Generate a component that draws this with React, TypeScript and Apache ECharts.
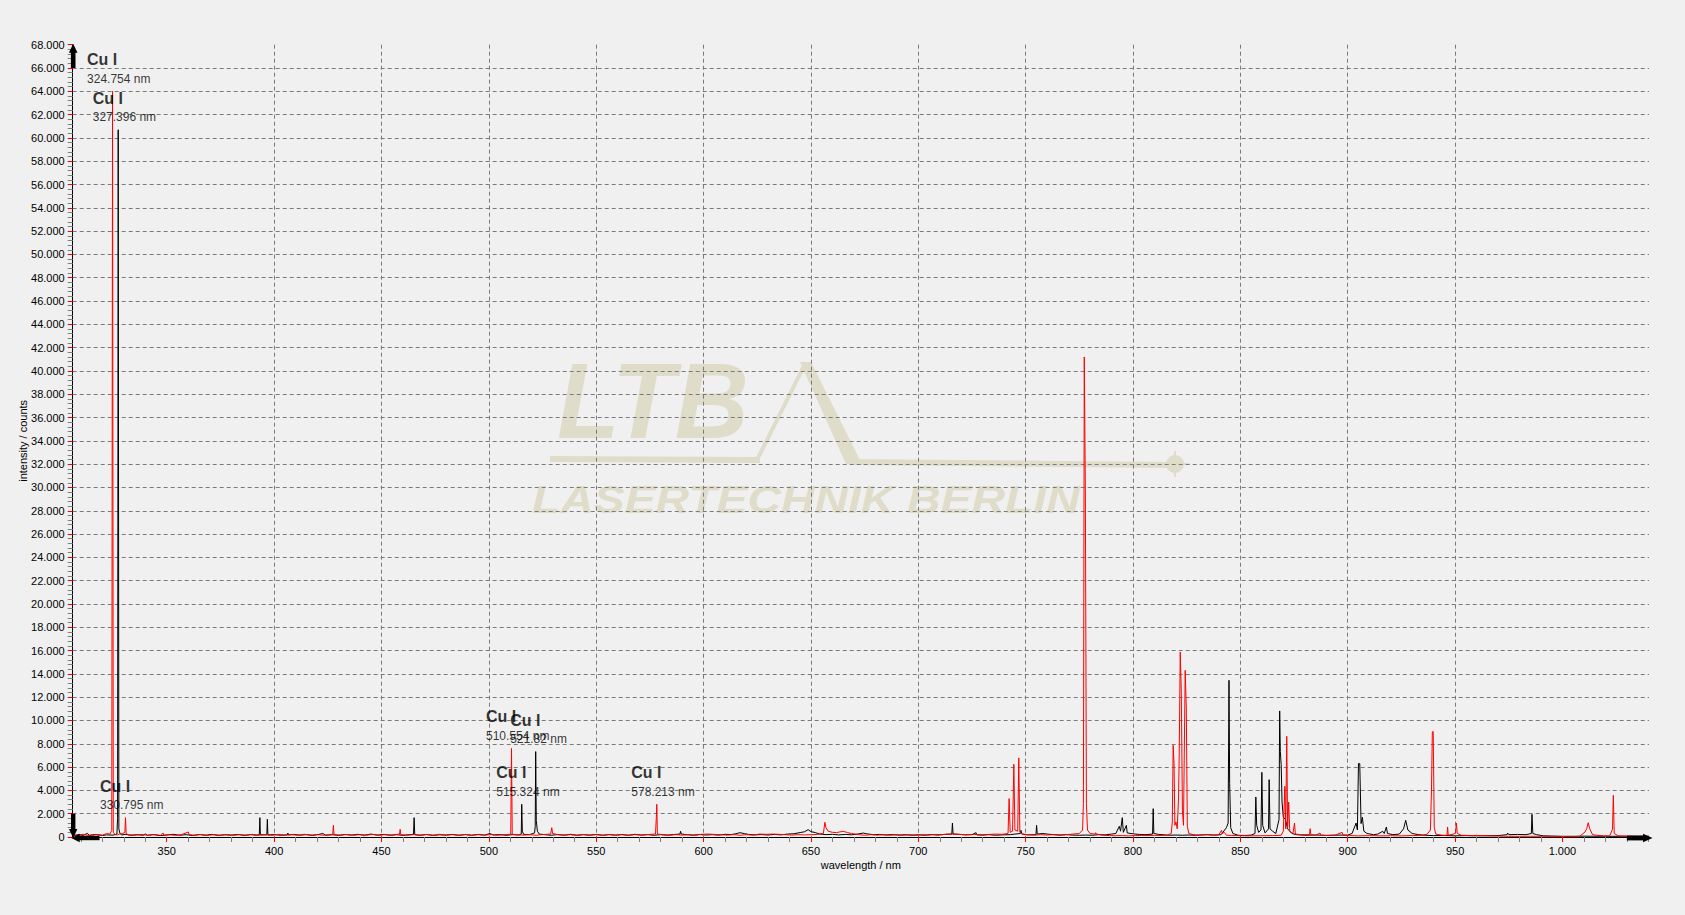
import React, { useEffect, useRef } from 'react';
import * as echarts from 'echarts';

// ---------- data (wavelength in nm, intensity in counts) ----------
const blackSpectrum: [number, number][] = [
  [306.2, 120], [309, 200], [311, 140], [313, 310], [314, 150], [317, 220], [320, 130], [322, 180], [325, 160],
  [326.8, 250], [327.1, 1600], [327.396, 60700], [327.7, 700], [328.2, 300], [329, 180], [331, 230], [333, 140],
  [336, 200], [339, 150], [340, 260], [341, 150], [344, 200], [347, 120], [350, 170], [353, 230], [356, 150],
  [359, 200], [362, 130], [365, 210], [368, 150], [371, 220], [374, 140], [377, 190], [380, 160], [383, 220],
  [386, 140], [389, 200], [392, 150], [393.1, 200], [393.37, 1660], [393.6, 200], [396.6, 180], [396.85, 1520],
  [397.1, 170], [400, 210], [403, 150], [406.2, 180], [406.4, 340], [406.7, 170], [409, 220], [412, 160],
  [415, 200], [418, 140], [421, 230], [422.7, 300], [424, 150], [427, 200], [430, 140], [433, 210], [436, 160],
  [439, 230], [442, 150], [445, 250], [448, 160], [451, 220], [454, 150], [457, 200], [460, 140], [463, 200],
  [464.9, 230], [465.2, 1660], [465.5, 200], [468, 150], [471, 210], [474, 140], [477, 190], [480, 160],
  [483, 220], [486, 150], [489, 200], [492, 150], [495, 220], [498, 160], [500.5, 300], [502, 170], [505, 210],
  [508, 150], [511, 200], [514, 170], [515.1, 250], [515.324, 2805], [515.6, 500], [516.2, 220], [519, 200],
  [521.3, 350], [521.6, 900], [521.82, 7330], [522.1, 1400], [522.6, 500], [523.5, 250], [526, 200], [529, 150],
  [532, 210], [535, 160], [538, 230], [541, 150], [544, 200], [547, 160], [550, 220], [553, 150], [556, 200],
  [559, 160], [562, 210], [565, 150], [568, 230], [571, 170], [574, 200], [577, 150], [580, 200], [583, 160],
  [586, 210], [589, 250], [589.3, 490], [589.6, 260], [592, 200], [595, 160], [598, 210], [601, 170], [604, 200],
  [607, 160], [610, 230], [613, 210], [615, 280], [617, 370], [619, 290], [621, 220], [624, 180], [627, 210],
  [630, 170], [633, 220], [636, 180], [639, 250], [642, 280], [645, 380], [647, 450], [648.7, 630], [650, 460],
  [652, 380], [654, 260], [657, 200], [660, 230], [663, 180], [666, 220], [669, 190], [672, 260], [674.4, 340],
  [676, 270], [679, 200], [682, 220], [685, 170], [688, 210], [691, 160], [694, 200], [697, 150], [700, 190],
  [703, 150], [706, 210], [709, 160], [712, 220], [715.6, 250], [715.9, 1200], [716.2, 260], [719, 230],
  [722, 180], [725, 200], [726.9, 370], [727.2, 180], [730, 160], [733, 200], [736, 150], [739, 180], [743, 200],
  [745, 250], [747.5, 300], [747.8, 570], [748.2, 250], [751, 180], [754.8, 200], [755.1, 1000], [755.4, 250],
  [758, 300], [760, 250], [763, 200], [766, 170], [769, 200], [772, 160], [775, 150], [778, 170], [781, 150],
  [784, 200], [787, 180], [790, 250], [792, 300], [793.6, 915], [794.2, 500], [795, 1660], [795.5, 400],
  [796.9, 1000], [797.3, 350], [799, 300], [801, 250], [803, 220], [806, 200], [809.1, 250], [809.4, 2430],
  [809.7, 300], [812, 220], [815, 180], [817, 150], [820, 170], [823, 150], [826, 170], [829, 150], [832, 180],
  [835, 200], [838, 160], [841, 200], [843.5, 800], [844.3, 1200], [844.7, 13450], [845, 4580], [845.5, 800],
  [846.5, 300], [849, 150], [852, 130], [855, 160], [856.8, 300], [857.2, 3434], [857.6, 1000], [858.5, 400],
  [859.6, 600], [860, 5550], [860.4, 1000], [861.5, 350], [863.1, 700], [863.4, 4920], [863.8, 700], [865, 500],
  [866.5, 300], [868, 1500], [868.3, 10820], [868.6, 7350], [869, 6200], [869.4, 3000], [870, 1700], [871, 1500],
  [872, 700], [874, 300], [876, 200], [880, 150], [885, 170], [890, 140], [895, 160], [900, 170], [902, 300],
  [903.9, 1200], [904.5, 600], [905, 6300], [905.6, 6300], [906.2, 1150], [906.8, 1700], [907.5, 500], [909, 300],
  [912, 200], [914, 250], [916.3, 490], [917, 300], [918, 860], [918.5, 300], [921, 200], [924, 250], [926, 700],
  [927, 1430], [928, 600], [930, 300], [933, 200], [936, 150], [940, 120], [945, 130], [950, 100], [955, 120],
  [960, 100], [965, 110], [970, 120], [974.2, 200], [974.5, 340], [975, 200], [979, 220], [983, 200], [985.5, 300],
  [985.8, 1946], [986.2, 300], [988, 200], [991, 100], [995, 80], [1000, 60], [1005, 60], [1010, 70], [1020, 60],
  [1030, 60], [1040.3, 60],
];

const redSpectrum: [number, number][] = [
  [306.2, 100], [308, 150], [311, 230], [314, 120], [317, 200], [320, 160], [322, 300], [323.5, 250], [324.4, 570],
  [324.754, 64000], [325.1, 400], [326, 200], [327, 180], [328, 250], [329.5, 300], [330.5, 400], [330.795, 1660],
  [331.1, 300], [332, 200], [335, 150], [338, 220], [341, 150], [344, 200], [347, 150], [348.3, 340], [348.6, 150],
  [351, 200], [354, 140], [357, 210], [360.1, 430], [360.4, 200], [363, 150], [366, 220], [369, 140], [372, 200],
  [375, 150], [378, 210], [381, 140], [384, 200], [387, 160], [390, 220], [393, 150], [396, 200], [399, 150],
  [402, 220], [405, 160], [408, 200], [411, 150], [414, 230], [417, 160], [420, 200], [423, 150], [427.3, 200],
  [427.6, 1000], [427.9, 200], [431, 160], [434, 220], [437, 150], [440, 200], [443, 160], [446, 220], [449, 150],
  [452, 200], [455, 160], [458.4, 250], [458.7, 660], [459, 200], [462, 150], [465, 200], [468, 160], [471, 220],
  [474, 150], [477, 230], [480, 170], [483, 200], [486, 150], [489, 220], [492, 150], [495, 200], [498, 160],
  [501, 210], [504, 150], [507, 200], [510.2, 230], [510.554, 7600], [510.9, 230], [513, 200], [516, 160],
  [519, 200], [522, 150], [525, 210], [528.8, 250], [529.3, 800], [529.7, 300], [532, 200], [535, 160], [538, 200],
  [541, 150], [544, 210], [547, 160], [550, 200], [553, 150], [556, 220], [559, 160], [562, 200], [565, 150],
  [568, 200], [571, 160], [574, 210], [577.6, 250], [578.0, 1660], [578.213, 2805], [578.5, 250], [581, 200],
  [584, 150], [587, 200], [590, 160], [593, 200], [596, 150], [599, 230], [602, 250], [605, 220], [608, 200],
  [611, 160], [614, 200], [617, 150], [620, 200], [623, 160], [626, 250], [629, 230], [632, 250], [635, 230],
  [638, 200], [641, 160], [644, 200], [647, 180], [650, 200], [653, 220], [655.8, 300], [656.5, 1260], [657, 800],
  [658, 500], [660, 400], [662, 380], [665, 490], [667, 380], [669, 300], [672, 200], [675, 150], [678, 200],
  [681, 160], [684, 200], [687, 150], [690, 200], [693, 150], [696, 200], [699, 150], [702, 200], [705, 170],
  [708, 220], [711, 200], [714, 250], [718, 230], [722, 200], [726, 220], [730, 200], [733, 220], [736, 250],
  [739, 230], [741.8, 300], [742.3, 3300], [742.8, 400], [743.9, 500], [744.5, 6240], [745, 600], [746.3, 500],
  [746.8, 6790], [747.3, 400], [748.5, 250], [751, 200], [754, 160], [757, 200], [760, 170], [763, 200], [766, 160],
  [769, 200], [772, 250], [775, 300], [776.5, 600], [776.9, 2860], [777.3, 41200], [777.8, 29800], [778.3, 2860],
  [778.8, 600], [780, 300], [782.3, 250], [782.6, 370], [783, 250], [786, 150], [789, 120], [792, 110], [795, 120],
  [798, 100], [801, 120], [804, 130], [807, 120], [810, 140], [813, 130], [816, 160], [817.8, 300], [818.3, 1290],
  [818.7, 7870], [819.1, 6300], [819.5, 1000], [820, 1290], [820.6, 700], [821.2, 3350], [821.5, 6870],
  [822, 15880], [822.5, 12300], [823, 2300], [823.5, 1000], [824.3, 14300], [824.8, 11160], [825.3, 900],
  [826, 300], [828, 200], [831, 150], [834, 200], [837, 160], [840, 200], [841.2, 570], [841.6, 300], [842.5, 400],
  [843.5, 150], [846, 130], [850, 110], [855, 100], [860, 110], [865, 120], [869, 150], [870, 500], [870.7, 4350],
  [871.1, 700], [871.6, 8640], [872, 800], [872.5, 3000], [873, 500], [874.5, 300], [875.2, 1200], [875.6, 250],
  [878, 200], [882.2, 200], [882.5, 715], [882.8, 200], [885, 150], [887.1, 340], [887.5, 150], [890, 130],
  [894, 150], [897.4, 400], [897.8, 150], [901, 120], [905, 100], [910, 120], [915, 100], [920, 110], [925, 100],
  [930, 120], [935, 150], [937, 250], [938.5, 600], [939, 4000], [939.4, 9015], [939.8, 9070], [940.3, 800],
  [941, 250], [944, 150], [946.2, 150], [946.5, 860], [946.8, 150], [950.2, 300], [950.6, 1200], [951, 300],
  [953, 150], [957, 120], [960, 140], [965, 100], [970, 80], [975, 60], [980, 60], [985, 60], [990, 60], [995, 60],
  [1000, 40], [1004, 20], [1008, 60], [1010.5, 430], [1011.3, 715], [1012, 1230], [1012.7, 715], [1014, 200],
  [1016, 150], [1019, 100], [1022, 100], [1023.3, 660], [1023.7, 3578], [1024.1, 300], [1026, 100], [1030, 80],
  [1035, 60], [1040.3, 60],
];

const xTickValues = [350, 400, 450, 500, 550, 600, 650, 700, 750, 800, 850, 900, 950, 1000];

const annotations = [
  { element: 'Cu I', nm: 324.754, text: '324.754 nm' },
  { element: 'Cu I', nm: 327.396, text: '327.396 nm' },
  { element: 'Cu I', nm: 330.795, text: '330.795 nm' },
  { element: 'Cu I', nm: 510.554, text: '510.554 nm' },
  { element: 'Cu I', nm: 515.324, text: '515.324 nm' },
  { element: 'Cu I', nm: 521.82, text: '521.82 nm' },
  { element: 'Cu I', nm: 578.213, text: '578.213 nm' },
];

const X_MIN = 306.2;
const X_MAX = 1040.3;
const Y_MAX = 68000;
const Y_INTERVAL = 2000;

const FONT = '"Liberation Sans", Arial, sans-serif';
const fmt = (v: number) => String(Math.round(v)).replace(/\B(?=(\d{3})+(?!\d))/g, '.');

function peakNear(nm: number): number {
  let m = 0;
  for (const s of [blackSpectrum, redSpectrum]) {
    for (const [x, y] of s) if (Math.abs(x - nm) < 0.35 && y > m) m = y;
  }
  return m;
}

export default function App() {
  const ref = useRef<HTMLDivElement>(null);

  useEffect(() => {
    const chart = echarts.init(ref.current!, null, { renderer: 'svg' });
    const option: any = {
      animation: false,
      backgroundColor: '#f0f0f0',
      textStyle: { fontFamily: FONT },
      grid: { left: 72.7, right: 36, top: 44.7, bottom: 78, outerBoundsMode: 'none' },
      xAxis: {
        type: 'value',
        min: X_MIN,
        max: X_MAX,
        minInterval: 50,
        maxInterval: 50,
        name: 'wavelength / nm',
        nameLocation: 'middle',
        nameGap: 22,
        nameMoveOverlap: false,
        nameTextStyle: { color: '#000', fontSize: 11, fontFamily: FONT },
        axisLine: { show: true, onZero: false, lineStyle: { color: '#000', width: 1 } },
        axisTick: { show: true, length: 5, customValues: xTickValues, lineStyle: { color: '#ff0000' } },
        minorTick: { show: true, splitNumber: 5, length: 5, lineStyle: { color: '#808080' } },
        axisLabel: {
          customValues: xTickValues,
          margin: 8,
          color: '#000',
          fontSize: 11,
          fontFamily: FONT,
          formatter: (v: number) => fmt(v),
        },
        splitLine: {
          show: true,
          showMinLine: false,
          showMaxLine: false,
          lineStyle: { color: '#7a7a7a', type: [4, 3], width: 1 },
        },
      },
      yAxis: {
        type: 'value',
        min: 0,
        max: Y_MAX,
        interval: Y_INTERVAL,
        name: 'intensity / counts',
        nameLocation: 'middle',
        nameGap: 44,
        nameMoveOverlap: false,
        nameTextStyle: { color: '#000', fontSize: 11, fontFamily: FONT },
        axisLine: { show: true, lineStyle: { color: '#000', width: 1 } },
        axisTick: { show: true, length: 5, lineStyle: { color: '#ff0000' } },
        minorTick: { show: true, splitNumber: 5, length: 5, lineStyle: { color: '#808080' } },
        axisLabel: { margin: 8, color: '#000', fontSize: 11, fontFamily: FONT, formatter: (v: number) => fmt(v) },
        splitLine: {
          show: true,
          showMinLine: false,
          showMaxLine: false,
          lineStyle: { color: '#7a7a7a', type: [4, 3], width: 1 },
        },
      },
      series: [
        {
          name: 'black',
          type: 'line',
          data: blackSpectrum,
          showSymbol: false,
          symbol: 'none',
          silent: true,
          lineStyle: { color: '#000000', width: 1 },
          z: 2,
        },
        {
          name: 'red',
          type: 'line',
          data: redSpectrum,
          showSymbol: false,
          symbol: 'none',
          silent: true,
          lineStyle: { color: '#ff0000', width: 1 },
          z: 3,
        },
        {
          name: 'labels',
          type: 'scatter',
          silent: true,
          symbolSize: 1,
          itemStyle: { color: 'rgba(0,0,0,0)' },
          z: 5,
          data: annotations.map((a) => ({
            value: [a.nm, peakNear(a.nm)],
            label: {
              show: true,
              position: [-25, -5],
              align: 'left',
              verticalAlign: 'bottom',
              formatter: `{a|${a.element}}\n{b|${a.text}}`,
              rich: {
                a: { fontFamily: FONT, fontSize: 16, fontWeight: 'bold', color: '#000', lineHeight: 24 },
                b: { fontFamily: FONT, fontSize: 12, color: '#000', lineHeight: 14 },
              },
            },
          })),
        },
      ],
    };
    chart.setOption(option);

    const p = (x: number, y: number) => chart.convertToPixel({ gridIndex: 0 }, [x, y]) as number[];
    const o = p(X_MIN, 0);
    const yt = p(X_MIN, Y_MAX);
    const yShaft = p(X_MIN, Y_MAX - Y_INTERVAL);
    const xr = p(X_MAX, 0);
    const xShaft = p(1030, 0);
    const oV = p(X_MIN, 2000);
    const oH = p(318.7, 0);
    const ax = o[0] + 0.5;
    const ay = o[1] + 1;
    const black = { fill: '#000' };
    const wm = '#dfddc9';

    const graphic: any[] = [
      // watermark
      {
        type: 'text', z: -1, silent: true, x: 557, y: 401, scaleX: 0.95,
        style: { text: 'LTB', font: 'italic bold 108px "Liberation Sans", Arial, sans-serif', fill: wm, align: 'left', verticalAlign: 'middle' },
      },
      {
        type: 'text', z: -1, silent: true, x: 532, y: 500, scaleX: 1.22,
        style: { text: 'LASERTECHNIK BERLIN', font: 'italic bold 38px "Liberation Sans", Arial, sans-serif', fill: wm, align: 'left', verticalAlign: 'middle' },
      },
      { type: 'line', z: -1, silent: true, shape: { x1: 550, y1: 459, x2: 760, y2: 460 }, style: { stroke: wm, lineWidth: 6 } },
      { type: 'line', z: -1, silent: true, shape: { x1: 757, y1: 460, x2: 805, y2: 364 }, style: { stroke: wm, lineWidth: 4 } },
      { type: 'polygon', z: -1, silent: true, shape: { points: [[800, 362], [811, 362], [862, 464], [846, 464]] }, style: { fill: wm } },
      { type: 'line', z: -1, silent: true, shape: { x1: 850, y1: 462, x2: 1172, y2: 465 }, style: { stroke: wm, lineWidth: 6 } },
      { type: 'circle', z: -1, silent: true, shape: { cx: 1175, cy: 464, r: 9 }, style: { fill: wm } },
      { type: 'line', z: -1, silent: true, shape: { x1: 1161, y1: 464, x2: 1189, y2: 464 }, style: { stroke: wm, lineWidth: 2 } },
      { type: 'line', z: -1, silent: true, shape: { x1: 1175, y1: 451, x2: 1175, y2: 477 }, style: { stroke: wm, lineWidth: 2 } },
      // top arrow of y axis
      { type: 'polygon', z: 20, silent: true, shape: { points: [[ax, yt[1] - 1], [ax - 4.3, yt[1] + 8], [ax + 4.3, yt[1] + 8]] }, style: black },
      { type: 'rect', z: 20, silent: true, shape: { x: ax - 2.3, y: yt[1] + 7, width: 4.6, height: yShaft[1] - yt[1] - 7 }, style: black },
      // right arrow of x axis
      { type: 'polygon', z: 20, silent: true, shape: { points: [[xr[0] + 3.5, ay], [xr[0] - 6, ay - 4.3], [xr[0] - 6, ay + 4.3]] }, style: black },
      { type: 'rect', z: 20, silent: true, shape: { x: xShaft[0], y: ay - 2.4, width: xr[0] - 5 - xShaft[0], height: 4.8 }, style: black },
      // origin markers
      { type: 'rect', z: 20, silent: true, shape: { x: ax - 2.2, y: oV[1], width: 4.4, height: o[1] - 8 - oV[1] }, style: black },
      { type: 'polygon', z: 20, silent: true, shape: { points: [[ax, o[1] + 1], [ax - 4.2, o[1] - 8], [ax + 4.2, o[1] - 8]] }, style: black },
      { type: 'rect', z: 20, silent: true, shape: { x: o[0] + 6, y: ay - 2.2, width: oH[0] - o[0] - 6, height: 4.4 }, style: black },
      { type: 'polygon', z: 20, silent: true, shape: { points: [[o[0] - 1.5, ay], [o[0] + 7, ay - 4.3], [o[0] + 7, ay + 4.3]] }, style: black },
    ];
    chart.setOption({ graphic });

    return () => chart.dispose();
  }, []);

  return <div ref={ref} style={{ position: 'fixed', left: 0, top: 0, width: 1685, height: 915 }} />;
}
